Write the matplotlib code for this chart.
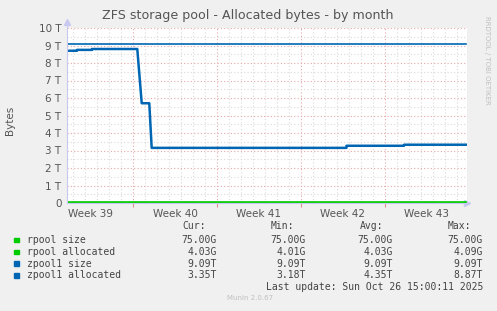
import matplotlib
matplotlib.use('Agg')
import matplotlib.pyplot as plt
from matplotlib.ticker import FixedLocator, MultipleLocator

# days counted from Mon Sep 22 2025 (start of week 39)
alloc_days = [1.5, 2.33, 2.33, 3.58, 3.58, 7.36, 7.73, 8.36, 8.56, 24.8, 24.8, 29.6, 29.6, 34.75]
alloc_tb = [8.70, 8.70, 8.75, 8.75, 8.80, 8.80, 5.70, 5.70, 3.15, 3.15, 3.27, 3.27, 3.33, 3.33]
span_days = [1.5, 34.75]
zpool1_size = [9.09, 9.09]
rpool_size = [0.075, 0.075]
rpool_alloc = [0.004, 0.004]

week_labels = ['Week 39', 'Week 40', 'Week 41', 'Week 42', 'Week 43']
week_mid = [3.5, 10.5, 17.5, 24.5, 31.5]
week_starts = [7, 14, 21, 28]

legend_names = ['rpool size', 'rpool allocated', 'zpool1 size', 'zpool1 allocated']
legend_colors = ['#00CC00', '#00CC00', '#0066B3', '#0066B3']
cur = ['75.00G', '4.03G', '9.09T', '3.35T']
mins = ['75.00G', '4.01G', '9.09T', '3.18T']
avgs = ['75.00G', '4.03G', '9.09T', '4.35T']
maxs = ['75.00G', '4.09G', '9.09T', '8.87T']

W, H = 497, 311
fig = plt.figure(figsize=(W / 100, H / 100), dpi=100, facecolor='#F0F0F0')
ax = fig.add_axes([67 / W, (H - 203) / H, 400 / W, 175 / H])
ax.set_facecolor('white')

ax.set_xlim(span_days[0], span_days[1] + 0.1)
ax.set_ylim(0, 10)

# grid
ax.xaxis.set_minor_locator(MultipleLocator(1))
ax.xaxis.set_major_locator(FixedLocator(week_starts))
ax.yaxis.set_major_locator(MultipleLocator(1))
ax.yaxis.set_minor_locator(MultipleLocator(0.5))
ax.grid(which='minor', color='#DADADA', linestyle=(0, (1, 2)), linewidth=0.8)
ax.grid(which='major', color='#E8A8A8', linestyle=(0, (1, 2)), linewidth=0.8)
ax.set_axisbelow(True)

ax.set_xticklabels([])
ax.tick_params(axis='x', which='major', length=3, color='#E09090', direction='out')
ax.tick_params(axis='x', which='minor', length=0)
ax.tick_params(axis='y', which='both', length=0, labelsize=7.5, labelcolor='#555555', pad=4)
ax.set_yticks(range(11))
ax.set_yticklabels(['0'] + ['%d T' % i for i in range(1, 11)])
for x, lab in zip(week_mid, week_labels):
    ax.text(x, -0.35, lab, ha='center', va='top', fontsize=7.5, color='#555555',
            transform=ax.transData, clip_on=False)

for s in ['top', 'right']:
    ax.spines[s].set_visible(False)
ax.spines['left'].set_color('#C8C8F0')
ax.spines['bottom'].set_color('#C8C8F0')
ax.plot([1], [0], marker='>', color='#C8C8F0', markersize=5, transform=ax.transAxes, clip_on=False)
ax.plot([0], [1.035], marker='^', color='#C8C8F0', markersize=5, transform=ax.transAxes, clip_on=False)
ax.spines['left'].set_bounds(0, 10.3)

ax.plot(span_days, rpool_size, color=legend_colors[0], lw=1.2)
ax.plot(span_days, rpool_alloc, color=legend_colors[1], lw=1.2)
ax.plot(span_days, zpool1_size, color=legend_colors[2], lw=1.2)
ax.plot(alloc_days, alloc_tb, color=legend_colors[3], lw=1.8)

fig.text(248 / W, 1 - 16 / H, 'ZFS storage pool - Allocated bytes - by month', ha='center',
         va='center', fontsize=9.1, color='#555555')
fig.text(10 / W, 1 - 120 / H, 'Bytes', rotation=90, ha='center', va='center', fontsize=7.5, color='#555555')
fig.text(487 / W, 1 - 60 / H, 'RRDTOOL / TOBI OETIKER', rotation=270, ha='center', va='center',
         fontsize=5, color='#C0C0C0')

mono = dict(family='DejaVu Sans Mono', fontsize=7, color='#444444')
fig.text(182 / W, 1 - 226 / H, 'Cur:', ha='left', va='center', **mono)
fig.text(271 / W, 1 - 226 / H, 'Min:', ha='left', va='center', **mono)
fig.text(360 / W, 1 - 226 / H, 'Avg:', ha='left', va='center', **mono)
fig.text(448 / W, 1 - 226 / H, 'Max:', ha='left', va='center', **mono)
for i, name in enumerate(legend_names):
    y = 1 - (240 + i * 11.8) / H
    fig.patches.append(plt.Rectangle((14 / W, y - 2.2 / H), 4.5 / W, 4.5 / H, color=legend_colors[i],
                                     transform=fig.transFigure, figure=fig))
    fig.text(27 / W, y, name, ha='left', va='center', **mono)
    fig.text(217 / W, y, cur[i], ha='right', va='center', **mono)
    fig.text(306 / W, y, mins[i], ha='right', va='center', **mono)
    fig.text(393 / W, y, avgs[i], ha='right', va='center', **mono)
    fig.text(483 / W, y, maxs[i], ha='right', va='center', **mono)
fig.text(483 / W, 1 - 287 / H, 'Last update: Sun Oct 26 15:00:11 2025', ha='right', va='center', **mono)
fig.text(250 / W, 1 - 298 / H, 'Munin 2.0.67', ha='center', va='center', fontsize=5, color='#C0C0C0')

fig.savefig('out.png', dpi=100, facecolor=fig.get_facecolor())
